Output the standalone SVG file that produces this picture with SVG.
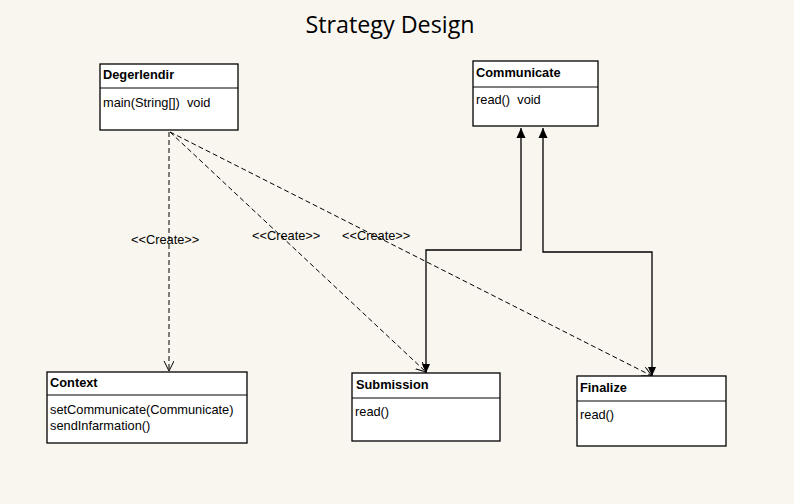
<svg xmlns="http://www.w3.org/2000/svg" width="794" height="504" viewBox="0 0 794 504">
<style>
.box{fill:#fff;stroke:#000;stroke-width:1.3}
.div{stroke:#000;stroke-width:1}
.t{font-family:"Liberation Sans",Arial,sans-serif;font-size:12.8px;fill:#000;white-space:pre}
.b{font-weight:bold}
.dash{fill:none;stroke:#000;stroke-width:1;stroke-dasharray:5,3}
.solid{fill:none;stroke:#000;stroke-width:1.3}
.title{font-family:"Open Sans","Liberation Sans",sans-serif;font-size:23.3px;fill:#000}
</style>
<defs>
<marker id="open" markerWidth="12" markerHeight="12" refX="10" refY="5" orient="auto" markerUnits="userSpaceOnUse">
<path d="M0,0 L10,5 L0,10" fill="none" stroke="#000" stroke-width="1"/>
</marker>
<marker id="tri" markerWidth="12" markerHeight="12" refX="10" refY="5" orient="auto" markerUnits="userSpaceOnUse">
<path d="M0,0.5 L10,5 L0,9.5 Z" fill="#000"/>
</marker>
</defs>
<rect width="794" height="504" fill="#f9f6ef"/>
<text class="title" x="390" y="33" text-anchor="middle">Strategy Design</text>
<g id="connectors">
<path class="dash" d="M169,132 L169,371" marker-end="url(#open)"/>
<path class="dash" d="M170,132 L426,372" marker-end="url(#open)"/>
<path class="dash" d="M170,132 L652,376" marker-end="url(#open)"/>
<path class="solid" d="M426,373 L426,250 L521,250 L521,128" marker-end="url(#tri)"/>
<path class="solid" d="M652,376 L652,252 L543,252 L543,128" marker-end="url(#tri)"/>
<path d="M422,364 L430,364 L426,373 Z" fill="#000"/>
<path d="M648,367 L656,367 L652,376 Z" fill="#000"/>
<text class="t" x="131" y="244">&lt;&lt;Create&gt;&gt;</text>
<text class="t" x="252" y="240">&lt;&lt;Create&gt;&gt;</text>
<text class="t" x="342" y="240">&lt;&lt;Create&gt;&gt;</text>
</g>
<g id="Degerlendir">
<rect class="box" x="100" y="64" width="138" height="66"/>
<line class="div" x1="100" y1="88" x2="238" y2="88"/>
<text class="t b" x="103" y="79">Degerlendir</text>
<text class="t" x="103" y="107" xml:space="preserve">main(String[])  void</text>
</g>
<g id="Communicate">
<rect class="box" x="473" y="61" width="125" height="65"/>
<line class="div" x1="473" y1="87" x2="598" y2="87"/>
<text class="t b" x="476" y="77">Communicate</text>
<text class="t" x="476" y="104" xml:space="preserve">read()  void</text>
</g>
<g id="Context">
<rect class="box" x="47" y="372" width="200" height="71"/>
<line class="div" x1="47" y1="395" x2="247" y2="395"/>
<text class="t b" x="50" y="387">Context</text>
<text class="t" x="50" y="414">setCommunicate(Communicate)</text>
<text class="t" x="50" y="430">sendInfarmation()</text>
</g>
<g id="Submission">
<rect class="box" x="352" y="373" width="148" height="68"/>
<line class="div" x1="352" y1="398" x2="500" y2="398"/>
<text class="t b" x="356" y="389">Submission</text>
<text class="t" x="355" y="416">read()</text>
</g>
<g id="Finalize">
<rect class="box" x="577" y="376" width="149" height="70"/>
<line class="div" x1="577" y1="401" x2="726" y2="401"/>
<text class="t b" x="580" y="392">Finalize</text>
<text class="t" x="580" y="419">read()</text>
</g>
</svg>
